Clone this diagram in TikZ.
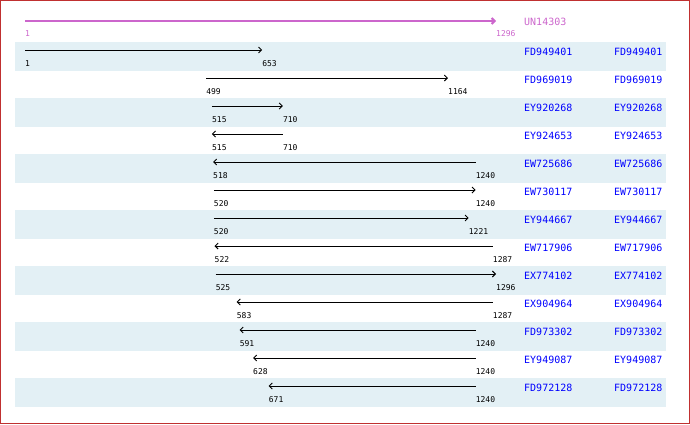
\documentclass[tikz,border=0pt]{standalone}
\usepackage{fontspec}
\usetikzlibrary{arrows.meta}
\newfontfamily\idfont{DejaVu Sans Mono}
\definecolor{frame}{RGB}{192,48,48}
\definecolor{stripe}{RGB}{227,240,245}
\definecolor{pinkc}{RGB}{204,102,204}
\definecolor{idblue}{RGB}{0,0,255}
\tikzset{
  seg/.style={line width=0.9pt, black},
  fwd/.style={-{Straight Barb[length=3pt,width=6pt]}},
  rev/.style={{Straight Barb[length=3pt,width=6pt]}-},
  numlbl/.style={anchor=west, inner sep=0pt, font=\idfont\fontsize{8}{9}\selectfont},
  idlbl/.style={anchor=west, inner sep=0pt, text=idblue, font=\idfont\fontsize{10}{12}\selectfont},
}
\begin{document}
\begin{tikzpicture}[x=1pt,y=-1pt]
\useasboundingbox (0,0) rectangle (690,424);
\draw[frame, line width=1pt] (0.5,0.5) rectangle (689.5,423.5);
% header
\coordinate (h1) at (25,21);
\coordinate (h2) at (496,21);
\draw[pinkc, line width=2pt, -{Straight Barb[length=3pt,width=6pt]}] (h1) -- (h2);
\node[numlbl, text=pinkc] (hl1) at (25,34) {1};
\node[numlbl, text=pinkc] (hl2) at (496,34) {1296};
\node[idlbl, text=pinkc] (hid) at (524,22) {UN14303};
% stripes
\foreach \k in {0,2,...,12}{
  \fill[stripe] (15,{42+28*\k}) rectangle (666,{71+28*\k});
}
\foreach \i/\id/\s/\e/\d in {
  0/FD949401/1/653/fwd,
  1/FD969019/499/1164/fwd,
  2/EY920268/515/710/fwd,
  3/EY924653/515/710/rev,
  4/EW725686/518/1240/rev,
  5/EW730117/520/1240/fwd,
  6/EY944667/520/1221/fwd,
  7/EW717906/522/1287/rev,
  8/EX774102/525/1296/fwd,
  9/EX904964/583/1287/rev,
  10/FD973302/591/1240/rev,
  11/EY949087/628/1240/rev,
  12/FD972128/671/1240/rev}{
  \pgfmathsetmacro{\yt}{42+28*\i}
  \pgfmathsetmacro{\xs}{25+(\s-1)*0.3637066}
  \pgfmathsetmacro{\xe}{25+(\e-1)*0.3637066}
  \coordinate (s\i) at (\xs,\yt+8);
  \coordinate (e\i) at (\xe,\yt+8);
  \draw[seg,\d] (s\i) -- (e\i);
  \node[numlbl] (ls\i) at (\xs,\yt+22) {\s};
  \node[numlbl] (le\i) at (\xe,\yt+22) {\e};
  \node[idlbl] (ida\i) at (524,\yt+10) {\id};
  \node[idlbl] (idb\i) at (614,\yt+10) {\id};
}
\end{tikzpicture}
\end{document}
